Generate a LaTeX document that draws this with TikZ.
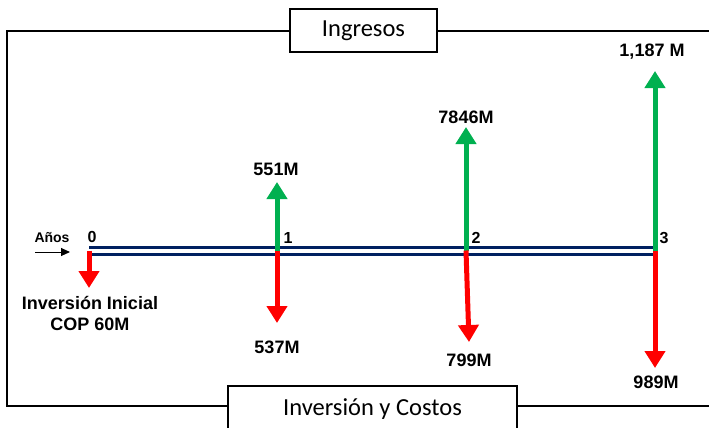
\documentclass[tikz,border=0pt]{standalone}
\usepackage{fontspec}
\setmainfont{Liberation Sans}
\newfontfamily\calib{Carlito}
\usetikzlibrary{arrows.meta}
\definecolor{navyline}{HTML}{002060}
\definecolor{gainc}{HTML}{00B050}
\definecolor{lossc}{HTML}{FF0000}
\tikzset{
  frame/.style={line width=2pt, black},
  boxlabel/.style={draw, line width=2pt, fill=white, inner sep=0pt, font=\calib\fontsize{24.5}{27}\selectfont},
  val/.style={font=\bfseries\fontsize{18}{20}\selectfont, inner sep=0pt},
  yearl/.style={font=\bfseries\fontsize{16}{18}\selectfont, inner sep=0pt},
  tl/.style={line width=3pt, navyline},
  upflow/.style={line width=5pt, gainc, -{Triangle[width=20pt,length=17pt]}},
  downflow/.style={line width=5pt, lossc, -{Triangle[width=20pt,length=17pt]}},
}
\begin{document}
\begin{tikzpicture}[x=1pt,y=-1pt]
\useasboundingbox (0,0) rectangle (709,428);
\clip (0,0) rectangle (709,428);
% boxes
\node[boxlabel, minimum width=147pt, minimum height=43pt] (ing) at (363.5,31) {Ingresos};
\node[boxlabel, minimum width=289pt, minimum height=46pt] (inv) at (372.5,409) {Inversión y Costos};
% frame
\coordinate (tl) at (7,31);
\coordinate (bl) at (7,406);
\coordinate (tr) at (712,31);
\coordinate (br) at (712,406);
\draw[frame] (ing.west |- tl) -- (tl) -- (bl) -- (inv.west |- bl);
\draw[frame] (ing.east |- tr) -- (tr);
\draw[frame] (inv.east |- br) -- (br);
% timeline
\coordinate (t0) at (89,250.5);
\coordinate (t1) at (277,250.5);
\coordinate (t2) at (466,250.5);
\coordinate (t3) at (655,250.5);
\draw[tl] ([yshift=-3.5pt]t0) -- ([yshift=-3.5pt]t3);
\draw[tl] ([yshift=3.5pt]t0) -- ([yshift=3.5pt]t3);
% years
\node[yearl] (n0) at (92,237) {0};
\node[yearl] (n1) at (288,238) {1};
\node[yearl] (n2) at (476,238) {2};
\node[yearl] (n3) at (664,238) {3};
\node[font=\bfseries\fontsize{14}{16}\selectfont, inner sep=0pt] (anos) at (52,238) {Años};
\coordinate (a1) at (35,252);
\coordinate (a2) at (70,252);
\draw[line width=1pt, -{Triangle[width=8pt,length=9pt]}] (a1) -- (a2);
% income arrows
\coordinate (g1) at (277,182);
\coordinate (g2) at (466,127);
\coordinate (g3) at (655,71);
\draw[upflow] (t1) -- (g1);
\draw[upflow] (t2) -- (g2);
\draw[upflow] (t3) -- (g3);
\node[val] (v1) at (276,169) {551M};
\node[val] (v2) at (466,117) {7846M};
\node[val] (v3) at (652,52) {1,187 M};
% cost arrows
\coordinate (r0) at (89,288);
\coordinate (r1) at (277,323);
\coordinate (r2) at (469,342);
\coordinate (r3) at (655,368);
\draw[downflow] (t0) -- (r0);
\draw[downflow] (t1) -- (r1);
\draw[downflow] (t2) -- (r2);
\draw[downflow] (t3) -- (r3);
\node[val, align=center] (c0) at (90,313) {Inversión Inicial\\[1pt]COP 60M};
\node[val] (c1) at (277,347) {537M};
\node[val] (c2) at (469,360) {799M};
\node[val] (c3) at (656,382) {989M};
\end{tikzpicture}
\end{document}
